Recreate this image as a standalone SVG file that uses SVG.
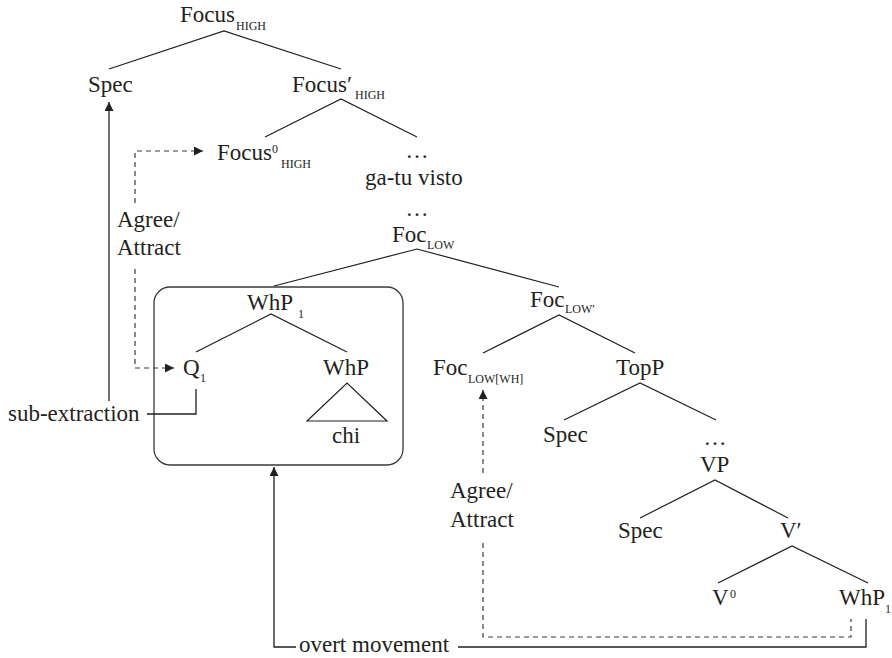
<svg xmlns="http://www.w3.org/2000/svg" width="892" height="658" viewBox="0 0 892 658">
<style>
text{font-family:"Liberation Serif",Tinos,"Times New Roman",Times,"Noto Serif","DejaVu Serif",serif;font-size:23px;fill:#231f20}
.sub{font-size:12px}
.sup{font-size:12px}
.e{stroke:#231f20;stroke-width:1.2;fill:none}
.box{stroke:#3a3a3a;stroke-width:1.3;fill:none}
.s{stroke:#231f20;stroke-width:1.3;fill:none}
.d{stroke:#3a3a3a;stroke-width:1.2;fill:none;stroke-dasharray:5 4}
.m{text-anchor:middle}
</style>
<defs>
<marker id="ah" viewBox="0 0 10 10" refX="10" refY="5" markerWidth="10" markerHeight="9" markerUnits="userSpaceOnUse" orient="auto">
<path d="M0,0 L10,5 L0,10 z" fill="#231f20"/>
</marker>
</defs>
<g id="edges">
<path class="e" d="M109,69 L224,31 L341,69"/>
<path class="e" d="M265,137 L341,99 L417,137"/>
<path class="e" d="M274,286 L417,249 L559,287"/>
<path class="e" d="M196,352 L271,314 L347,352"/>
<path class="e" d="M307,421 L347,383 L387,421 Z"/>
<path class="e" d="M483,353 L559,315 L635,353"/>
<path class="e" d="M564,420 L640,383 L716,420"/>
<path class="e" d="M640,518 L715,480 L788,518"/>
<path class="e" d="M718,583 L792,546 L868,583"/>
</g>
<g id="n-focus-high"><text x="180" y="22">Focus<tspan class="sub" x="236" y="30">HIGH</tspan></text></g>
<g id="n-spec1"><text x="88" y="92">Spec</text></g>
<g id="n-focusbar-high"><text x="292" y="92">Focus′<tspan class="sub" x="355" y="99">HIGH</tspan></text></g>
<g id="n-focus0-high"><text x="217" y="160">Focus<tspan class="sup" x="272" y="153">0</tspan><tspan class="sub" x="281" y="168">HIGH</tspan></text></g>
<g id="n-dots1"><text class="m" x="417" y="158">…</text></g>
<g id="n-gatu"><text x="365" y="185">ga-tu visto</text></g>
<g id="n-dots2"><text class="m" x="417" y="216">…</text></g>
<g id="n-foc-low"><text x="392" y="242">Foc<tspan class="sub" x="427" y="249">LOW</tspan></text></g>
<g id="n-box">
<rect class="box" x="154" y="287" width="249" height="178" rx="16"/>
</g>
<g id="n-whp1"><text x="247" y="310">WhP<tspan class="sub" x="298" y="318">1</tspan></text></g>
<g id="n-q1"><text x="183" y="375">Q<tspan class="sub" x="200" y="382">1</tspan></text></g>
<g id="n-whp"><text x="323" y="375">WhP</text></g>
<g id="n-chi"><text x="332" y="443">chi</text></g>
<g id="n-foc-lowbar"><text x="530" y="307">Foc<tspan class="sub" x="565" y="313">LOW′</tspan></text></g>
<g id="n-foc-lowwh"><text x="433" y="375">Foc<tspan class="sub" x="468" y="383">LOW[WH]</tspan></text></g>
<g id="n-topp"><text x="616" y="375">TopP</text></g>
<g id="n-spec2"><text x="543" y="442">Spec</text></g>
<g id="n-dots3"><text class="m" x="715" y="445">…</text></g>
<g id="n-vp"><text x="700" y="472">VP</text></g>
<g id="n-spec3"><text x="618" y="538">Spec</text></g>
<g id="n-vbar"><text x="780" y="538">V′</text></g>
<g id="n-v0"><text x="712" y="605">V<tspan class="sup" x="730" y="598">0</tspan></text></g>
<g id="n-whp1-low"><text x="839" y="605">WhP<tspan class="sub" x="885" y="613">1</tspan></text></g>
<g id="l-agree1"><text x="117" y="227">Agree/</text><text x="117" y="255">Attract</text></g>
<g id="l-subext"><text x="8" y="421">sub-extraction</text></g>
<g id="l-agree2"><text x="450" y="498">Agree/</text><text x="450" y="527">Attract</text></g>
<g id="l-overt"><text x="299" y="652">overt movement</text></g>
<g id="connectors">
<path class="s" d="M109,401 L109,102" marker-end="url(#ah)"/>
<path class="s" d="M147,414 L196,414 L196,389"/>
<path class="s" d="M296,647 L274,647 L274,467" marker-end="url(#ah)"/>
<path class="s" d="M458,647 L866,647 L866,619"/>
<path class="d" d="M135,203 L135,151 L203,151" marker-end="url(#ah)"/>
<path class="d" d="M135,269 L135,368 L174,368" marker-end="url(#ah)"/>
<path class="d" d="M483,473 L483,390" marker-end="url(#ah)"/>
<path class="d" d="M483,543 L483,637 L851,637 L851,619"/>
</g>
</svg>
